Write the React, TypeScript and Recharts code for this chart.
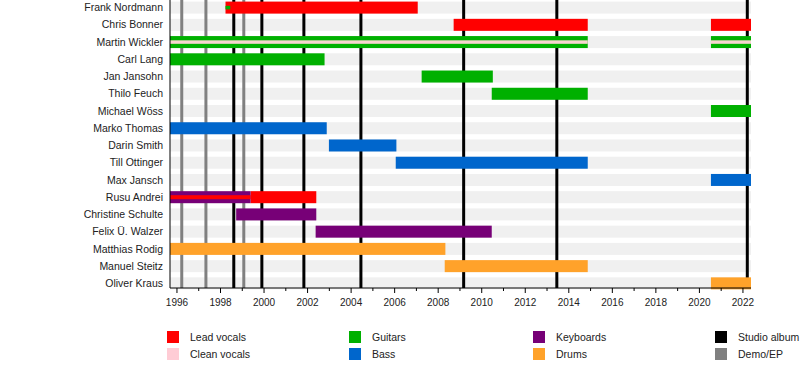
import { BarChart, Bar, XAxis, YAxis, ReferenceLine } from "recharts";

const START = 1995.68;
const END = 2022.37;

const MEMBERS = [
  "Frank Nordmann",
  "Chris Bonner",
  "Martin Wickler",
  "Carl Lang",
  "Jan Jansohn",
  "Thilo Feuch",
  "Michael Wöss",
  "Marko Thomas",
  "Darin Smith",
  "Till Ottinger",
  "Max Jansch",
  "Rusu Andrei",
  "Christine Schulte",
  "Felix Ü. Walzer",
  "Matthias Rodig",
  "Manuel Steitz",
  "Oliver Kraus",
];

type Span = [string, number, number];

// main roles
const LEAD_VOCALS: Span[] = [
  ["Frank Nordmann", 1998.23, 2007.06],
  ["Chris Bonner", 2008.71, 2014.87],
  ["Chris Bonner", 2020.53, 2022.37],
  ["Rusu Andrei", 1999.38, 2002.4],
];
const GUITARS: Span[] = [
  ["Martin Wickler", 1995.68, 2014.87],
  ["Martin Wickler", 2020.53, 2022.37],
  ["Carl Lang", 1995.68, 2002.78],
  ["Jan Jansohn", 2007.24, 2010.51],
  ["Thilo Feuch", 2010.46, 2014.87],
  ["Michael Wöss", 2020.53, 2022.37],
];
const BASS: Span[] = [
  ["Marko Thomas", 1995.68, 2002.88],
  ["Darin Smith", 2002.98, 2006.08],
  ["Till Ottinger", 2006.05, 2014.87],
  ["Max Jansch", 2020.53, 2022.37],
];
const KEYBOARDS: Span[] = [
  ["Rusu Andrei", 1995.68, 1999.38],
  ["Christine Schulte", 1998.72, 2002.4],
  ["Felix Ü. Walzer", 2002.37, 2010.46],
];
const DRUMS: Span[] = [
  ["Matthias Rodig", 1995.68, 2008.33],
  ["Manuel Steitz", 2008.3, 2014.87],
  ["Oliver Kraus", 2020.53, 2022.37],
];

// secondary roles (drawn as a thin stripe)
const CLEAN_VOCALS_2ND: Span[] = [
  ["Martin Wickler", 1995.68, 2014.87],
  ["Martin Wickler", 2020.53, 2022.37],
];
const LEAD_VOCALS_2ND: Span[] = [["Rusu Andrei", 1995.68, 1999.38]];
const GUITARS_2ND: Span[] = [["Frank Nordmann", 1998.23, 1998.45]];

const STUDIO_ALBUMS = [1998.61, 1999.9, 2001.83, 2004.45, 2009.17, 2013.45, 2022.2];
const DEMOS = [1996.22, 1997.33, 1999.07];

const YEAR_TICKS = [
  1996, 1997, 1998, 1999, 2000, 2001, 2002, 2003, 2004, 2005, 2006, 2007, 2008, 2009,
  2010, 2011, 2012, 2013, 2014, 2015, 2016, 2017, 2018, 2019, 2020, 2021, 2022,
];
const YEAR_LABELS = [
  1996, 1998, 2000, 2002, 2004, 2006, 2008, 2010, 2012, 2014, 2016, 2018, 2020, 2022,
];

const COLORS = {
  lead: "#ff0000",
  clean: "#f7d6cf",
  guitars: "#00b000",
  bass: "#0066cc",
  keys: "#770077",
  drums: "#ffa22a",
  studio: "#000000",
  demo: "#808080",
  band: "#f0f0f0",
};

const LEGEND = [
  ["Lead vocals", COLORS.lead],
  ["Clean vocals", "#ffccd5"],
  ["Guitars", COLORS.guitars],
  ["Bass", COLORS.bass],
  ["Keyboards", COLORS.keys],
  ["Drums", COLORS.drums],
  ["Studio album", COLORS.studio],
  ["Demo/EP", COLORS.demo],
];

const FONT = '"Liberation Sans", Arial, sans-serif';
const SHIFT = 3.6;

type Series = { key: string; color: string; h: number };

const rows: Record<string, any>[] = MEMBERS.map((name) => ({ name, band: [START, END] }));
const series: Series[] = [];

function addSpans(id: string, spans: Span[], color: string, h: number) {
  const count: Record<string, number> = {};
  spans.forEach(([name, from, to]) => {
    const n = count[name] ?? 0;
    count[name] = n + 1;
    const key = `${id}${n}`;
    const row = rows.find((r) => r.name === name);
    if (row) row[key] = [from, to];
    if (!series.some((s) => s.key === key)) series.push({ key, color, h });
  });
}

addSpans("lead", LEAD_VOCALS, COLORS.lead, 12);
addSpans("guitars", GUITARS, COLORS.guitars, 12);
addSpans("bass", BASS, COLORS.bass, 12);
addSpans("keys", KEYBOARDS, COLORS.keys, 12);
addSpans("drums", DRUMS, COLORS.drums, 12);
addSpans("clean2nd", CLEAN_VOCALS_2ND, COLORS.clean, 3.5);
addSpans("lead2nd", LEAD_VOCALS_2ND, COLORS.lead, 4);
addSpans("guitars2nd", GUITARS_2ND, COLORS.guitars, 3.5);

function spanShape(key: string, color: string, h: number) {
  return (props: any) => {
    const { x, y, width, height, payload } = props;
    if (!payload || !payload[key] || !(width > 0)) return <g />;
    const cy = y + height / 2 + SHIFT;
    return <rect x={x} y={cy - h / 2} width={width} height={h} fill={color} />;
  };
}

function YearTick(props: any) {
  const { x, y, payload } = props;
  const major = YEAR_LABELS.includes(payload.value);
  return (
    <g>
      <line x1={x} x2={x} y1={y} y2={y + (major ? 5 : 3)} stroke="#000" />
      {major && (
        <text x={x} y={y + 17.5} textAnchor="middle" fontSize={10} fill="#222" fontFamily={FONT}>
          {payload.value}
        </text>
      )}
    </g>
  );
}

function NameTick(props: any) {
  const { x, y, payload } = props;
  return (
    <text
      x={x}
      y={y + SHIFT}
      textAnchor="end"
      dominantBaseline="central"
      fontSize={10.5}
      fill="#222"
      fontFamily={FONT}
    >
      {payload.value}
    </text>
  );
}

export default function App() {
  return (
    <div style={{ position: "absolute", left: 0, top: 0, width: 800, height: 368, overflow: "hidden", background: "#fff" }}>
      <div style={{ position: "absolute", left: 0, top: -5 }}>
        <BarChart
          width={800}
          height={318}
          data={rows}
          layout="vertical"
          barGap={-12}
          margin={{ top: 0, right: 49, bottom: 0, left: 0 }}
        >
          <XAxis
            type="number"
            domain={[START, END]}
            allowDataOverflow
            ticks={YEAR_TICKS}
            interval={0}
            tick={<YearTick />}
            tickLine={false}
            tickSize={0}
            tickMargin={0}
            height={25}
            axisLine={{ stroke: "#000" }}
          />
          <YAxis
            type="category"
            dataKey="name"
            width={170}
            interval={0}
            tick={<NameTick />}
            tickLine={false}
            tickSize={0}
            tickMargin={7}
            axisLine={{ stroke: "#000" }}
          />
          <Bar
            dataKey="band"
            barSize={12}
            isAnimationActive={false}
            shape={spanShape("band", COLORS.band, 12)}
            zIndex={100}
          />
          {DEMOS.map((yr) => (
            <ReferenceLine key={`d${yr}`} x={yr} stroke={COLORS.demo} strokeWidth={3} zIndex={200} />
          ))}
          {STUDIO_ALBUMS.map((yr) => (
            <ReferenceLine key={`s${yr}`} x={yr} stroke={COLORS.studio} strokeWidth={3} zIndex={200} />
          ))}
          {series.map((s) => (
            <Bar
              key={s.key}
              dataKey={s.key}
              barSize={12}
              isAnimationActive={false}
              shape={spanShape(s.key, s.color, s.h)}
            />
          ))}
        </BarChart>
      </div>
      {LEGEND.map(([label, color], i) => {
        const col = Math.floor(i / 2);
        const row = i % 2;
        const left = [167, 349, 533, 715][col];
        const top = [331, 348][row];
        return (
          <div key={label} style={{ position: "absolute", left, top, height: 12, display: "flex", alignItems: "center" }}>
            <div style={{ width: 12, height: 12, background: color }} />
            <span style={{ marginLeft: 11, fontFamily: FONT, fontSize: 10.5, color: "#222", whiteSpace: "nowrap" }}>
              {label}
            </span>
          </div>
        );
      })}
    </div>
  );
}
